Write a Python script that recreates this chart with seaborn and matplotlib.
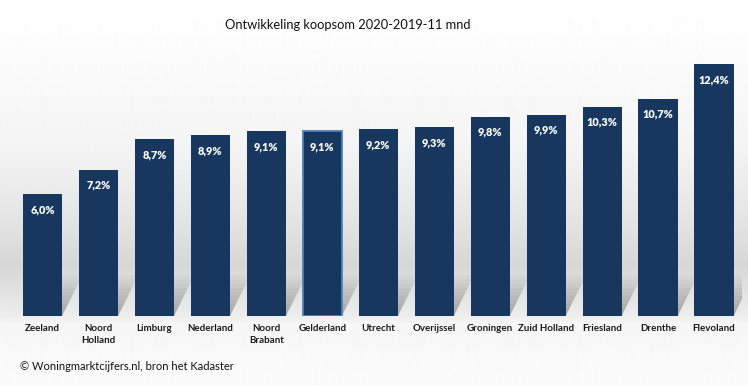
import numpy as np
import pandas as pd
import matplotlib
matplotlib.use("Agg")
import matplotlib.pyplot as plt
from matplotlib.patches import Polygon
import seaborn as sns

regions = ["Zeeland", "Noord\nHolland", "Limburg", "Nederland", "Noord\nBrabant",
           "Gelderland", "Utrecht", "Overijssel", "Groningen", "Zuid Holland",
           "Friesland", "Drenthe", "Flevoland"]
values = [6.0, 7.2, 8.7, 8.9, 9.1, 9.1, 9.2, 9.3, 9.8, 9.9, 10.3, 10.7, 12.4]
value_labels = ["6,0%", "7,2%", "8,7%", "8,9%", "9,1%", "9,1%", "9,2%", "9,3%",
                "9,8%", "9,9%", "10,3%", "10,7%", "12,4%"]
title = "Ontwikkeling koopsom 2020-2019-11 mnd"
footer = "© Woningmarktcijfers.nl, bron het Kadaster"

df = pd.DataFrame({"regio": regions, "waarde": values})

sns.set_theme(style="white")
plt.rcParams["font.family"] = ["Lato", "DejaVu Sans"]

W, H = 748, 386
fig = plt.figure(figsize=(W / 100, H / 100), dpi=100)

# background gradient over whole figure
bg = fig.add_axes([0, 0, 1, 1], zorder=0)
ys = np.linspace(0, 1, 772)  # 0 = top
stops_y = [0, 45, 150, 230, 265, 300, 316, 324, 386]
stops_v = [1.0, 0.99, 0.955, 0.885, 0.84, 0.9, 0.93, 0.965, 0.985]
col = np.interp(ys * H, stops_y, stops_v)[:, None]
img = np.repeat(col, 2, axis=1)
bg.imshow(img, cmap="gray", vmin=0, vmax=1, aspect="auto", extent=[0, 1, 0, 1],
          interpolation="bilinear")
bg.set_axis_off()

base_px = 316
scale = 20.3
ymax = 13.0
top_px = base_px - ymax * scale
left_px, right_px = 14.5, 742.0
ax = fig.add_axes([left_px / W, (H - base_px) / H, (right_px - left_px) / W,
                   (base_px - top_px) / H], zorder=1)
ax.patch.set_alpha(0)

bar_color = "#17375E"
sns.barplot(data=df, x="regio", y="waarde", color=bar_color, saturation=1,
            width=0.7, ax=ax, edgecolor=bar_color, linewidth=0, zorder=3)
bars = list(ax.patches)
for i, p in enumerate(bars):
    if regions[i] == "Gelderland":
        p.set_edgecolor("#4F81BD")
        p.set_linewidth(1.3)

# soft slanted shadows behind the bars
n_layers = 10
for p in bars:
    x0 = p.get_x()
    x1 = x0 + p.get_width()
    for k in range(n_layers):
        h = 2.0 * (k + 1) / n_layers
        dx = 0.18 * h
        poly = Polygon([(x0, 0), (x1, 0), (x1 + dx, h), (x0 + dx, h)],
                       closed=True, facecolor="black", edgecolor="none",
                       alpha=0.03, zorder=2)
        ax.add_patch(poly)

ax.set_xlim(-0.5, len(regions) - 0.5)
ax.set_ylim(0, ymax)
ax.set_xlabel("")
ax.set_ylabel("")
ax.set_yticks([])
for s in ax.spines.values():
    s.set_visible(False)
ax.tick_params(axis="x", length=0, pad=6)
for lbl in ax.get_xticklabels():
    lbl.set_fontsize(7)
    lbl.set_fontweight("bold")
    lbl.set_color("#1a1a1a")
    lbl.set_verticalalignment("top")
    lbl.set_linespacing(1.35)

for i, (v, t) in enumerate(zip(values, value_labels)):
    ax.annotate(t, (i, v), xytext=(0, -11), textcoords="offset points",
                ha="center", va="center", color="white", fontsize=7.8,
                fontweight="heavy", zorder=5)

fig.text(348 / W, 1 - 25 / H, title, ha="center", va="center", fontsize=9.3,
         color="#111111")
fig.text(20 / W, 1 - 367 / H, footer, ha="left", va="center", fontsize=8,
         color="#111111")

fig.savefig("out.png", dpi=100)
